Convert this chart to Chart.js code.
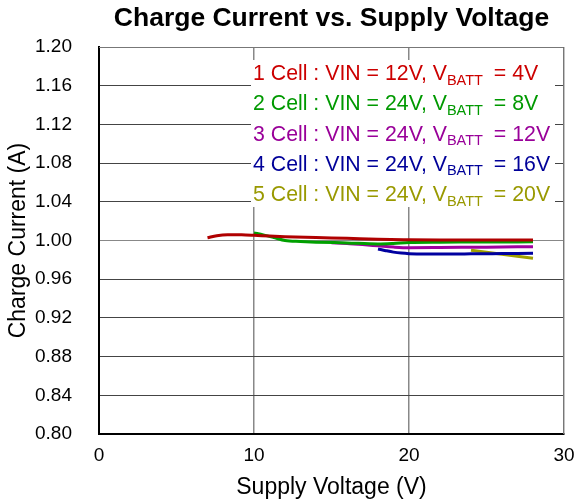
<!DOCTYPE html>
<html>
<head>
<meta charset="utf-8">
<script src="https://cdn.jsdelivr.net/npm/chart.js@4/dist/chart.umd.min.js"></script>
<style>
  body { margin: 0; background: #fff; }
</style>
</head>
<body>
<canvas id="chart" width="578" height="502"></canvas>
<script>
// Данные
const xTicks = [0, 10, 20, 30];
const yTicks = [0.80, 0.84, 0.88, 0.92, 0.96, 1.00, 1.04, 1.08, 1.12, 1.16, 1.20];

const cell1V = [7, 7.6, 8.3, 9.2, 10, 11, 12, 14, 16, 18, 20, 22, 24, 26, 28];
const cell1I = [1.0028, 1.0050, 1.0060, 1.0059, 1.0054, 1.0046, 1.0040, 1.0030, 1.0022, 1.0012, 1.0008, 1.0006, 1.0006, 1.0006, 1.0006];

const cell2V = [10, 10.6, 11.3, 12, 13, 14, 16, 18, 19, 20, 22, 24, 26, 28];
const cell2I = [1.0078, 1.0058, 1.0030, 1.0000, 0.9990, 0.9983, 0.9975, 0.9965, 0.9970, 0.9979, 0.9983, 0.9984, 0.9985, 0.9986];

const cell3V = [15, 16, 17, 18, 19, 20, 22, 24, 26, 28];
const cell3I = [0.9977, 0.9968, 0.9958, 0.9945, 0.9932, 0.9925, 0.9927, 0.9930, 0.9933, 0.9936];

const cell4V = [18, 18.5, 19, 19.5, 20, 21, 22, 24, 26, 28];
const cell4I = [0.9912, 0.9895, 0.9880, 0.9870, 0.9864, 0.9860, 0.9860, 0.9862, 0.9865, 0.9868];

const cell5V = [24, 26, 28];
const cell5I = [0.9900, 0.9858, 0.9816];

const seriesNames = [
    ['1 Cell : VIN = 12V, V', 'BATT', ' = 4V'],
    ['2 Cell : VIN = 24V, V', 'BATT', ' = 8V'],
    ['3 Cell : VIN = 24V, V', 'BATT', ' = 12V'],
    ['4 Cell : VIN = 24V, V', 'BATT', ' = 16V'],
    ['5 Cell : VIN = 24V, V', 'BATT', ' = 20V']
];
const lineColors = ['#b00000', '#00a000', '#a000a0', '#0000a0', '#a0a000'];
const textColors = ['#cc0000', '#009900', '#990099', '#000099', '#999900'];

const FONT = "'Liberation Sans', Arial, sans-serif";

const toPoints = (xs, ys) => xs.map((x, i) => ({ x: x, y: ys[i] }));

// Легенда с подстрочным индексом, поверх сетки
const legendPlugin = {
    id: 'subLegend',
    beforeDatasetsDraw(chart) {
        const ctx = chart.ctx;
        ctx.save();
        ctx.fillStyle = '#fff';
        ctx.fillRect(251, 60, 304, 147);
        ctx.textBaseline = 'alphabetic';
        ctx.textAlign = 'left';
        seriesNames.forEach((parts, i) => {
            const base = 80 + i * 30.3;
            let x = 253;
            ctx.fillStyle = textColors[i];
            ctx.font = `21.3px ${FONT}`;
            ctx.fillText(parts[0], x, base);
            x += ctx.measureText(parts[0]).width;
            ctx.font = `14.5px ${FONT}`;
            ctx.fillText(parts[1], x, base + 4.5);
            x += ctx.measureText(parts[1]).width + 5;
            ctx.font = `21.3px ${FONT}`;
            ctx.fillText(parts[2], x, base);
        });
        ctx.restore();
    },
    // рамка сверху и справа по шкалам
    afterDraw(chart) {
        const ctx = chart.ctx;
        const left = chart.scales.x.getPixelForValue(0);
        const right = Math.round(chart.scales.x.getPixelForValue(30)) - 0.5;
        const top = Math.round(chart.scales.y.getPixelForValue(1.2)) + 0.5;
        const bottom = chart.scales.y.getPixelForValue(0.8);
        ctx.save();
        ctx.strokeStyle = '#777';
        ctx.lineWidth = 1;
        ctx.beginPath();
        ctx.moveTo(left, top);
        ctx.lineTo(right, top);
        ctx.lineTo(right, bottom);
        ctx.stroke();
        ctx.restore();
    }
};

const datasets = [
    [cell1V, cell1I], [cell2V, cell2I], [cell3V, cell3I], [cell4V, cell4I], [cell5V, cell5I]
].map((s, i) => ({
    label: seriesNames[i].join(''),
    data: toPoints(s[0], s[1]),
    borderColor: lineColors[i],
    backgroundColor: lineColors[i],
    borderWidth: 3,
    showLine: true,
    pointRadius: 0,
    cubicInterpolationMode: 'monotone'
}));

new Chart(document.getElementById('chart'), {
    type: 'scatter',
    data: { datasets: datasets },
    plugins: [legendPlugin],
    options: {
        responsive: false,
        animation: false,
        layout: { padding: { left: 0, right: 0, top: 0, bottom: 0 } },
        plugins: {
            legend: { display: false },
            tooltip: { enabled: false },
            title: {
                display: true,
                fullSize: false,
                text: 'Charge Current vs. Supply Voltage',
                color: '#000',
                font: { family: FONT, size: 26.5, weight: 'bold' },
                padding: { top: 3, bottom: 12.2 }
            }
        },
        scales: {
            x: {
                type: 'linear',
                min: 0,
                max: 30,
                afterBuildTicks: (scale) => { scale.ticks = xTicks.map(v => ({ value: v })); },
                afterFit: (scale) => {
                    scale.height = 68;
                    scale.paddingLeft = 0;
                    scale.paddingRight = 14;
                },
                ticks: {
                    color: '#000',
                    padding: 10,
                    font: { family: FONT, size: 19 }
                },
                grid: { color: '#888', lineWidth: 1.5, drawTicks: false },
                border: { color: '#000', width: 2 },
                title: {
                    display: true,
                    text: 'Supply Voltage (V)',
                    color: '#000',
                    font: { family: FONT, size: 23 },
                    padding: { top: 0, bottom: 1 }
                }
            },
            y: {
                min: 0.8,
                max: 1.2,
                afterBuildTicks: (scale) => { scale.ticks = yTicks.map(v => ({ value: v })); },
                afterFit: (scale) => { scale.width = 99; },
                ticks: {
                    color: '#000',
                    padding: 27,
                    font: { family: FONT, size: 19 },
                    callback: (v) => Number(v).toFixed(2)
                },
                grid: {
                    color: (c) => (c.tick && c.tick.value === 1.0) ? '#888' : '#444',
                    lineWidth: 1,
                    drawTicks: false
                },
                border: { color: '#000', width: 2 },
                title: {
                    display: true,
                    text: 'Charge Current (A)',
                    color: '#000',
                    font: { family: FONT, size: 23 },
                    padding: { top: 5, bottom: 0 }
                }
            }
        }
    }
});
</script>
</body>
</html>
